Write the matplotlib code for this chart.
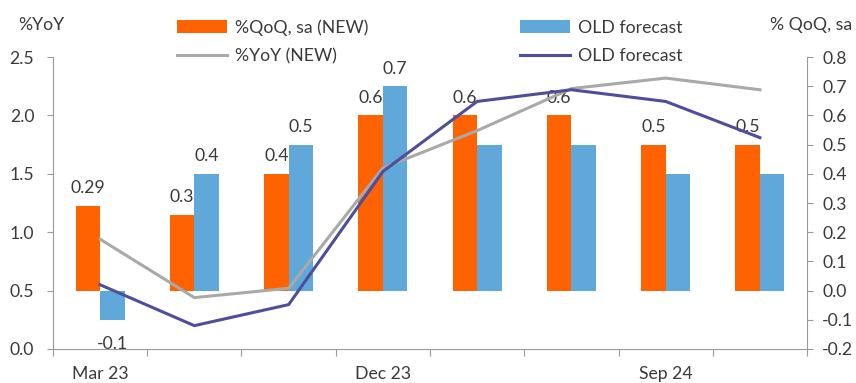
import matplotlib
matplotlib.use("Agg")
import matplotlib.pyplot as plt
from matplotlib.patches import Patch
from matplotlib.lines import Line2D
import numpy as np

plt.rcParams['font.family'] = ['Lato', 'DejaVu Sans']
FS = 12.7

quarters = ["Mar 23", "Jun 23", "Sep 23", "Dec 23", "Mar 24", "Jun 24", "Sep 24", "Dec 24"]
shown_ticks = ["Mar 23", "Dec 23", "Sep 24"]

qoq_new = [0.29, 0.26, 0.4, 0.6, 0.6, 0.6, 0.5, 0.5]
qoq_old = [-0.1, 0.4, 0.5, 0.7, 0.5, 0.5, 0.4, 0.4]
qoq_new_decimals = [2, 1, 1, 1, 1, 1, 1, 1]
qoq_old_labelled = [True, True, True, True, False, False, False, False]

yoy_new = [0.94, 0.44, 0.52, 1.55, 1.87, 2.23, 2.32, 2.22]
yoy_old = [0.55, 0.20, 0.38, 1.52, 2.12, 2.22, 2.12, 1.81]

ORANGE = "#FF6200"
BLUE = "#60A7DA"
GREY = "#A9A9A9"
PURPLE = "#4F4E9C"
TEXT = "#3A3A3A"
AXIS = "#9A9A9A"

fig = plt.figure(figsize=(8.56, 3.83), dpi=100)
ax = fig.add_axes([0.0619, 0.0888, 0.8809, 0.7622])
ax_r = ax.twinx()

x = np.arange(len(quarters))
w = 0.26

# bars on the right-hand (% QoQ) scale
ax_r.bar(x - w / 2, qoq_new, width=w, color=ORANGE, zorder=2)
ax_r.bar(x + w / 2, qoq_old, width=w, color=BLUE, zorder=2)

for xi, v, d in zip(x, qoq_new, qoq_new_decimals):
    ax_r.annotate(f"{v:.{d}f}", (xi - w / 2, v), xytext=(0, 7),
                  textcoords="offset points", ha="center", va="bottom",
                  fontsize=FS, color=TEXT)
for xi, v, show in zip(x, qoq_old, qoq_old_labelled):
    if not show:
        continue
    if v >= 0:
        ax_r.annotate(f"{v:.1f}", (xi + w / 2, v), xytext=(0, 7),
                      textcoords="offset points", ha="center", va="bottom",
                      fontsize=FS, color=TEXT)
    else:
        ax_r.annotate(f"{v:.1f}", (xi + w / 2, v), xytext=(0, -12),
                      textcoords="offset points", ha="center", va="top",
                      fontsize=FS, color=TEXT)

# lines on the left-hand (% YoY) scale, drawn above the bars
ax.plot(x, yoy_new, color=GREY, lw=2.2)
ax.plot(x, yoy_old, color=PURPLE, lw=2.2)
ax.set_zorder(ax_r.get_zorder() + 1)
ax.patch.set_visible(False)

ax.set_ylim(0, 2.5)
ax.set_yticks(np.arange(0, 2.51, 0.5))
ax.set_yticklabels([f"{t:.1f}" for t in np.arange(0, 2.51, 0.5)])
ax_r.set_ylim(-0.2, 0.8)
ax_r.set_yticks(np.arange(-0.2, 0.81, 0.1))
ax_r.set_yticklabels([f"{t:.1f}" for t in np.arange(-0.2, 0.81, 0.1)])

ax.set_xlim(-0.5, len(quarters) - 0.5)
ax.set_xticks(np.arange(-0.5, len(quarters), 1.0))
ax.set_xticklabels([])
label_pos = [quarters.index(q) for q in shown_ticks]
ax.set_xticks(label_pos, minor=True)
ax.set_xticklabels(shown_ticks, minor=True)
ax.tick_params(axis="x", which="minor", length=0, pad=12, labelsize=FS, labelcolor=TEXT)
ax.tick_params(axis="x", which="major", length=5, color=AXIS, direction="out")

for a in (ax, ax_r):
    for s in a.spines.values():
        s.set_color(AXIS)
    a.spines["top"].set_visible(False)
ax.spines["right"].set_visible(False)
ax_r.spines["left"].set_visible(False)
ax_r.spines["bottom"].set_visible(False)

ax.tick_params(axis="y", length=4.5, color=AXIS, labelsize=FS, labelcolor=TEXT, pad=9)
ax_r.tick_params(axis="y", length=4, color=AXIS, labelsize=FS, labelcolor=TEXT, pad=7)

fig.text(0.021, 0.935, "%YoY", fontsize=FS, color=TEXT, va="center", ha="left")
fig.text(0.996, 0.935, "% QoQ, sa", fontsize=FS, color=TEXT, va="center", ha="right")

handles = [
    Patch(facecolor=ORANGE, label="%QoQ, sa (NEW)"),
    Line2D([], [], color=GREY, lw=2.2, label="%YoY (NEW)"),
    Patch(facecolor=BLUE, label="OLD forecast"),
    Line2D([], [], color=PURPLE, lw=2.2, label="OLD forecast"),
]
fig.legend(handles=handles, ncol=2, loc="upper left", bbox_to_anchor=(0.188, 0.992),
           frameon=False, fontsize=FS, handlelength=2.84, handleheight=0.75,
           handletextpad=0.45, columnspacing=8.6, labelspacing=0.7,
           labelcolor=TEXT)

fig.savefig("out.png", dpi=100)
